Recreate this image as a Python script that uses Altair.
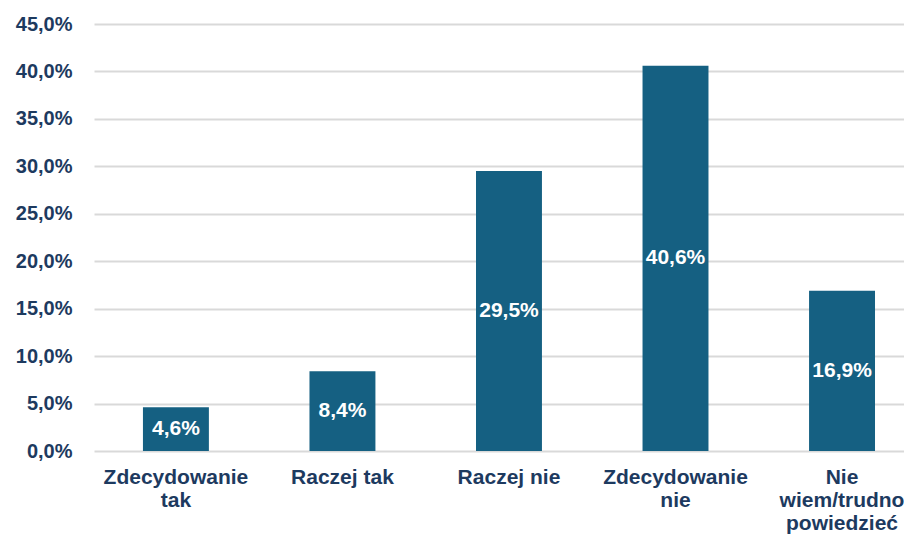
import altair as alt
import pandas as pd

categories = ["Zdecydowanie tak", "Raczej tak", "Raczej nie", "Zdecydowanie nie", "Nie wiem/trudno powiedzieć"]
values = [4.6, 8.4, 29.5, 40.6, 16.9]
y_ticks = [0, 5, 10, 15, 20, 25, 30, 35, 40, 45]

df = pd.DataFrame({"cat": categories, "value": values})

BAR = "#156082"
TXT = "#1d3a5f"
FONT = "Liberation Sans"

x = alt.X(
    "cat:N",
    sort=categories,
    title=None,
    scale=alt.Scale(paddingInner=0.604, paddingOuter=0.234, align=0.628),
    axis=alt.Axis(
        labelAngle=0,
        domain=False,
        ticks=False,
        labelPadding=15,
        labelFont=FONT,
        labelFontSize=21,
        labelFontWeight="bold",
        labelColor=TXT,
        labelLineHeight=23,
        labelLimit=300,
        labelExpr="length(datum.label) > 12 ? split(datum.label, ' ') : datum.label",
    ),
)

y_scale = alt.Scale(domain=[0, 45], nice=False)

bars = alt.Chart(df).mark_bar(color=BAR).encode(
    x=x,
    y=alt.Y(
        "value:Q",
        scale=y_scale,
        title=None,
        axis=alt.Axis(
            values=y_ticks,
            domain=False,
            ticks=False,
            grid=True,
            gridColor="#d9d9d9",
            gridWidth=2,
            labelPadding=22,
            labelFont=FONT,
            labelFontSize=20,
            labelFontWeight="bold",
            labelColor=TXT,
            labelExpr="replace(format(datum.value, '.1f'), '.', ',') + '%'",
        ),
    ),
)

labels = alt.Chart(df).transform_calculate(
    mid="datum.value / 2",
    lab="replace(format(datum.value, '.1f'), '.', ',') + '%'",
).mark_text(
    color="white", font=FONT, fontSize=21, fontWeight="bold", baseline="middle"
).encode(
    x=alt.X("cat:N", sort=categories),
    y=alt.Y("mid:Q", scale=y_scale),
    text="lab:N",
)

chart = (
    alt.layer(bars, labels)
    .properties(
        width=810,
        height=427,
        autosize=alt.AutoSizeParams(type="none"),
        padding={"left": 86, "top": 16, "right": 0, "bottom": 84},
    )
    .configure_view(stroke=None)
)

chart.save("out.html", embed_options={"renderer": "svg", "actions": False})
